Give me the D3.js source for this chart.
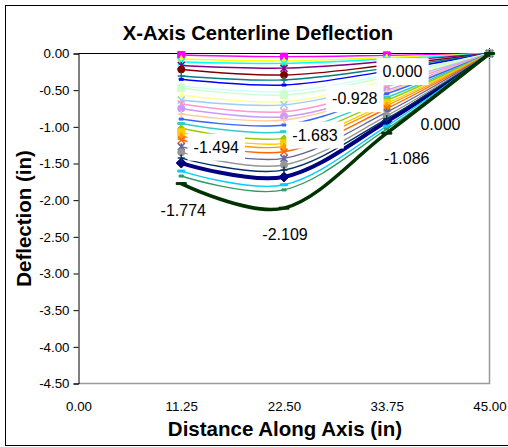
<!DOCTYPE html>
<html>
<head>
<meta charset="utf-8">
<script src="https://cdn.jsdelivr.net/npm/d3@7"></script>
<style>
  body { margin: 0; background: #fff; }
  svg text { font-family: "Liberation Sans", Arial, sans-serif; }
</style>
</head>
<body>
<div class="chart"></div>
<script>
// x positions of the gauges (in)
var xPositions = [11.25, 22.5, 33.75, 45];

// deflection (in) per series, in Excel series order
var seriesValues = [
    [-1.494, -1.683, -0.928, 0],
    [-0.02, -0.043, -0.025, 0],
    [-0.075, -0.10, -0.055, 0],
    [-0.116, -0.134, -0.075, 0],
    [-0.164, -0.20, -0.11, 0],
    [-0.218, -0.293, -0.16, 0],
    [-0.307, -0.36, -0.20, 0],
    [-0.352, -0.43, -0.24, 0],
    [-1.603, -1.79, -0.99, 0],
    [-0.443, -0.52, -0.29, 0],
    [-0.47, -0.566, -0.32, 0],
    [-0.566, -0.657, -0.37, 0],
    [-0.634, -0.70, -0.40, 0],
    [-0.689, -0.794, -0.45, 0],
    [-0.75, -0.862, -0.50, 0],
    [-0.825, -0.907, -0.52, 0],
    [-0.894, -0.975, -0.55, 0],
    [-0.955, -1.067, -0.60, 0],
    [-1.02, -1.157, -0.64, 0],
    [-1.075, -1.225, -0.68, 0],
    [-1.125, -1.27, -0.71, 0],
    [-1.18, -1.34, -0.75, 0],
    [-1.27, -1.43, -0.80, 0],
    [-1.348, -1.52, -0.85, 0],
    [-1.426, -1.59, -0.89, 0],
    [-1.671, -1.86, -1.03, 0],
    [-1.774, -2.109, -1.086, 0]
];

var seriesColors = ["#000080", "#FF00FF", "#FFFF00", "#00FFFF", "#800080", "#800000",
    "#008080", "#0000FF", "#00CCFF", "#CCFFFF", "#CCFFCC", "#FFFF99", "#99CCFF",
    "#FF99CC", "#CC99FF", "#FFCC99", "#3366FF", "#33CCCC", "#99CC00", "#FFCC00",
    "#FF9900", "#FF6600", "#666699", "#969696", "#003366", "#339966", "#003300"];

var markerCycle = ["diamond", "square", "triangle", "x", "star", "circle", "plus", "dash", "longdash"];

var yTickValues = [0, -0.5, -1, -1.5, -2, -2.5, -3, -3.5, -4, -4.5];
var xTickValues = [0, 11.25, 22.5, 33.75, 45];

// which series get data labels, and where the labels sit relative to the point
var labelledSeries = [0, 26];
var labelOffsets = {
    0: [[35, -16], [31, -42], [-32, -23], [-87, 18]],
    26: [[2, 27], [1, 26], [20, 25], [-49, 71]]
};

var svgWidth = 508;
var svgHeight = 447;

var svg = d3.select(".chart")
    .append("svg")
    .attr("width", svgWidth)
    .attr("height", svgHeight);

// outer chart border
svg.append("rect")
    .attr("x", 5.5).attr("y", 5.5)
    .attr("width", 505).attr("height", 440)
    .attr("fill", "#fff").attr("stroke", "#000").attr("stroke-width", 1);

var xScale = d3.scaleLinear().domain([0, 45]).range([78.5, 489.5]);
var yScale = d3.scaleLinear().domain([-4.5, 0]).range([383.5, 53.5]);

// plot area border (gray on right and bottom)
svg.append("path")
    .attr("d", `M${xScale(0)},${yScale(-4.5)}H${xScale(45)}V${yScale(0)}`)
    .attr("fill", "none").attr("stroke", "#999").attr("stroke-width", 1.5);

// title
svg.append("text")
    .attr("x", 258).attr("y", 40)
    .attr("text-anchor", "middle")
    .attr("font-size", "20.2px").attr("font-weight", "bold")
    .text("X-Axis Centerline Deflection");

// y axis
var yAxis = d3.axisLeft(yScale)
    .tickValues(yTickValues)
    .tickSize(5).tickPadding(4)
    .tickFormat(function (d) { return d.toFixed(2); });

var yg = svg.append("g")
    .attr("transform", `translate(${xScale(0)},0)`)
    .call(yAxis);
yg.selectAll("text").attr("font-size", "13.3px").attr("fill", "#000");
yg.selectAll("line").attr("stroke", "#000");
yg.select(".domain").attr("stroke", "#000");

// x axis labels along the bottom
var xAxis = d3.axisBottom(xScale)
    .tickValues(xTickValues)
    .tickSize(0).tickPadding(18)
    .tickFormat(function (d) { return d.toFixed(2); });

var xg = svg.append("g")
    .attr("transform", `translate(0,${yScale(-4.5)})`)
    .call(xAxis);
xg.select(".domain").remove();
xg.selectAll("text").attr("font-size", "13.3px").attr("fill", "#000");

// x axis line crossing at 0
svg.append("line")
    .attr("x1", xScale(0)).attr("x2", xScale(45))
    .attr("y1", yScale(0)).attr("y2", yScale(0))
    .attr("stroke", "#000").attr("stroke-width", 1);

// axis titles
svg.append("text")
    .attr("x", 285).attr("y", 436)
    .attr("text-anchor", "middle")
    .attr("font-size", "20.5px").attr("font-weight", "bold")
    .text("Distance Along Axis (in)");

svg.append("text")
    .attr("transform", `translate(31,${(yScale(0) + yScale(-4.5)) / 2})rotate(-90)`)
    .attr("text-anchor", "middle")
    .attr("font-size", "20.5px").attr("font-weight", "bold")
    .text("Deflection (in)");

// marker shapes like Excel's automatic ones
function markerPath(type, s) {
    var h = s / 2;
    switch (type) {
        case "diamond": return `M0,${-h}L${h},0L0,${h}L${-h},0Z`;
        case "square": return `M${-h},${-h}H${h}V${h}H${-h}Z`;
        case "triangle": return `M0,${-h}L${h},${h}L${-h},${h}Z`;
        case "x": return `M${-h},${-h}L${h},${h}M${h},${-h}L${-h},${h}`;
        case "star": return `M${-h},${-h}L${h},${h}M${h},${-h}L${-h},${h}M0,${-h}V${h}`;
        case "circle": return d3.symbol(d3.symbolCircle, Math.PI * h * h)();
        case "plus": return `M${-h},0H${h}M0,${-h}V${h}`;
        case "dash": return `M${-h * 0.6},-1H${h * 0.6}V1H${-h * 0.6}Z`;
        case "longdash": return `M${-h},-1H${h}V1H${-h}Z`;
    }
}
var strokedMarkers = ["x", "star", "plus"];

var line = d3.line()
    .x(function (d) { return xScale(d.x); })
    .y(function (d) { return yScale(d.y); })
    .curve(d3.curveCatmullRom.alpha(0));

var chart = svg.append("g");

seriesValues.forEach(function (vals, i) {
    var pts = vals.map(function (v, j) { return { x: xPositions[j], y: v }; });
    var color = seriesColors[i];
    var thick = (i === 0 || i === 26);
    var g = chart.append("g").attr("class", "series");

    g.append("path")
        .datum(pts)
        .attr("d", line)
        .attr("fill", "none")
        .attr("stroke", color)
        .attr("stroke-width", i === 0 ? 4 : (i === 26 ? 3.5 : 1.4));

    var type = markerCycle[i % markerCycle.length];
    var size = thick ? 10 : 7;
    var stroked = strokedMarkers.indexOf(type) >= 0;
    g.selectAll("path.marker")
        .data(pts)
        .enter()
        .append("path")
        .attr("class", "marker")
        .attr("transform", function (d) { return `translate(${xScale(d.x)},${yScale(d.y)})`; })
        .attr("d", markerPath(type, size))
        .attr("fill", stroked ? "none" : color)
        .attr("stroke", color)
        .attr("stroke-width", stroked ? 1.5 : 1);
});

// data labels
labelledSeries.forEach(function (si) {
    var vals = seriesValues[si];
    vals.forEach(function (v, j) {
        var px = xScale(xPositions[j]) + labelOffsets[si][j][0];
        var py = yScale(v) + labelOffsets[si][j][1];
        var lg = svg.append("g");
        var t = lg.append("text")
            .attr("x", px).attr("y", py)
            .attr("dy", "0.35em")
            .attr("text-anchor", "middle")
            .attr("font-size", "16px")
            .attr("fill", "#000")
            .text(v.toFixed(3));
        if (si === 0) {
            var bb = t.node().getBBox();
            lg.insert("rect", "text")
                .attr("x", bb.x - 6).attr("y", bb.y - 5)
                .attr("width", bb.width + 12).attr("height", bb.height + 10)
                .attr("fill", "#fff");
        }
    });
});
</script>
</body>
</html>
